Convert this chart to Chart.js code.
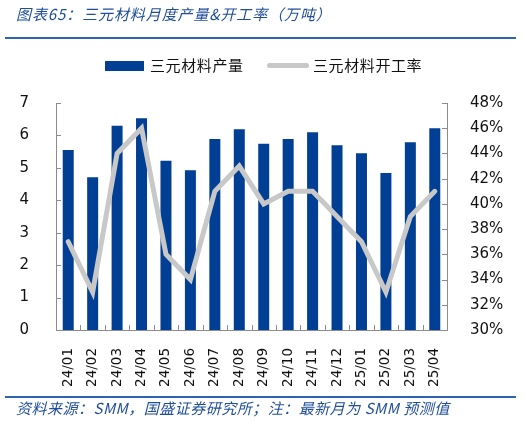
<!DOCTYPE html>
<html>
<head>
<meta charset="utf-8">
<script src="https://cdn.jsdelivr.net/npm/chart.js@4.4.1/dist/chart.umd.min.js"></script>
<style>
    html, body { margin: 0; padding: 0; background: #fff; }
    #wrap { position: relative; width: 525px; height: 422px; overflow: hidden; }
    #chart { position: absolute; left: 0; top: 0; }
    .txt { position: absolute; white-space: nowrap; font-family: "Noto Sans CJK SC", sans-serif; }
    .title, .foot { color: #1F4E9B; font-size: 15px; font-style: italic; line-height: 18px; }
    .title { letter-spacing: 0.9px; }
    .foot { letter-spacing: 0.5px; }
    .rule { position: absolute; left: 5px; width: 511px; height: 2px; background: #2E64B0; }
    .leg { color: #111; font-size: 15px; line-height: 18px; letter-spacing: 0.6px; }
</style>
</head>
<body>
<div id="wrap">
    <canvas id="chart" width="525" height="422"></canvas>
    <div class="txt title" style="left:16px; top:5px;">图表65：三元材料月度产量&amp;开工率（万吨）</div>
    <div class="rule" style="top:37px;"></div>
    <div style="position:absolute; left:105px; top:61px; width:39px; height:10px; background:#003F94;"></div>
    <div class="txt leg" style="left:150px; top:56px;">三元材料产量</div>
    <div style="position:absolute; left:267px; top:63px; width:42px; height:5px; border-radius:3px; background:#C8C8C8;"></div>
    <div class="txt leg" style="left:313px; top:56px;">三元材料开工率</div>
    <div class="rule" style="top:396px;"></div>
    <div class="txt foot" style="left:16px; top:399px;">资料来源：SMM，国盛证券研究所；注：最新月为 SMM 预测值</div>
</div>
<script>
    /**
     * Months
     */
    const months = ['24/01', '24/02', '24/03', '24/04', '24/05', '24/06', '24/07', '24/08',
        '24/09', '24/10', '24/11', '24/12', '25/01', '25/02', '25/03', '25/04'];

    /**
     * Output (10k tons)
     */
    const output = [5.55, 4.71, 6.30, 6.53, 5.22, 4.93, 5.89, 6.19,
        5.74, 5.89, 6.10, 5.70, 5.45, 4.84, 5.79, 6.22];

    /**
     * Utilization rate (%)
     */
    const utilization = [37, 33, 44, 46, 36, 34, 41, 43,
        40, 41, 41, 39, 37, 33, 39, 41];

    /**
     * Axis ticks
     */
    const leftTicks = [0, 7, 1];
    const rightTicks = [30, 48, 2];

    const axisColor = '#8C8C8C';
    const tickFont = { family: '"DejaVu Sans", sans-serif', size: 15 };

    /**
     * Inward tick marks
     */
    const innerTicks = {
        id: 'innerTicks',
        afterDraw: function (chart) {
            const ctx = chart.ctx;
            const x = chart.scales.x;
            const y = chart.scales.y;
            const y1 = chart.scales.y1;
            const len = 5;

            ctx.save();
            ctx.strokeStyle = axisColor;
            ctx.lineWidth = 1;
            ctx.beginPath();

            for (let i = 1; i < months.length; i++) {
                const px = Math.round((x.getPixelForValue(i - 1) + x.getPixelForValue(i)) / 2) + 0.5;
                ctx.moveTo(px, x.top);
                ctx.lineTo(px, x.top - len);
            }

            y.ticks.forEach(function (t, i) {
                const py = Math.round(y.getPixelForTick(i)) + 0.5;
                ctx.moveTo(y.right, py);
                ctx.lineTo(y.right + len, py);
            });

            y1.ticks.forEach(function (t, i) {
                const py = Math.round(y1.getPixelForTick(i)) + 0.5;
                ctx.moveTo(y1.left, py);
                ctx.lineTo(y1.left - len, py);
            });

            ctx.stroke();
            ctx.restore();
        }
    };

    /**
     * Chart
     */
    new Chart(document.getElementById('chart'), {
        type: 'bar',

        data: {
            labels: months,

            datasets: [
                /**
                 * Utilization
                 */
                {
                    type: 'line',
                    label: '三元材料开工率',
                    data: utilization,
                    yAxisID: 'y1',
                    borderColor: '#C8C8C8',
                    borderWidth: 5,
                    borderCapStyle: 'round',
                    pointRadius: 0,
                    tension: 0,
                    order: 0
                },

                /**
                 * Output
                 */
                {
                    label: '三元材料产量',
                    data: output,
                    yAxisID: 'y',
                    backgroundColor: '#003F94',
                    barPercentage: 0.45,
                    categoryPercentage: 1,
                    order: 1
                }
            ]
        },

        options: {
            responsive: false,
            animation: false,
            devicePixelRatio: 1,

            layout: {
                padding: { top: 103, left: 0, right: 0, bottom: 0 }
            },

            plugins: {
                legend: { display: false },
                tooltip: { enabled: false }
            },

            scales: {
                x: {
                    grid: { display: false },
                    border: { display: true, color: axisColor, width: 1 },
                    ticks: {
                        color: '#111',
                        font: { family: '"DejaVu Sans", sans-serif', size: 13.5 },
                        autoSkip: false,
                        minRotation: 90,
                        maxRotation: 90,
                        padding: 10
                    },
                    afterFit: function (scale) { scale.height = 92; }
                },

                y: {
                    position: 'left',
                    min: leftTicks[0],
                    max: leftTicks[1],
                    grid: { display: false },
                    border: { display: true, color: axisColor, width: 1 },
                    ticks: {
                        stepSize: leftTicks[2],
                        color: '#111',
                        font: tickFont,
                        padding: 19
                    },
                    afterFit: function (scale) { scale.width = 56; }
                },

                y1: {
                    position: 'right',
                    min: rightTicks[0],
                    max: rightTicks[1],
                    grid: { display: false },
                    border: { display: true, color: axisColor, width: 1 },
                    ticks: {
                        stepSize: rightTicks[2],
                        color: '#111',
                        font: tickFont,
                        padding: 15,
                        callback: function (v) { return v + '%'; }
                    },
                    afterFit: function (scale) { scale.width = 78; }
                }
            }
        },

        plugins: [innerTicks]
    });
</script>
</body>
</html>
